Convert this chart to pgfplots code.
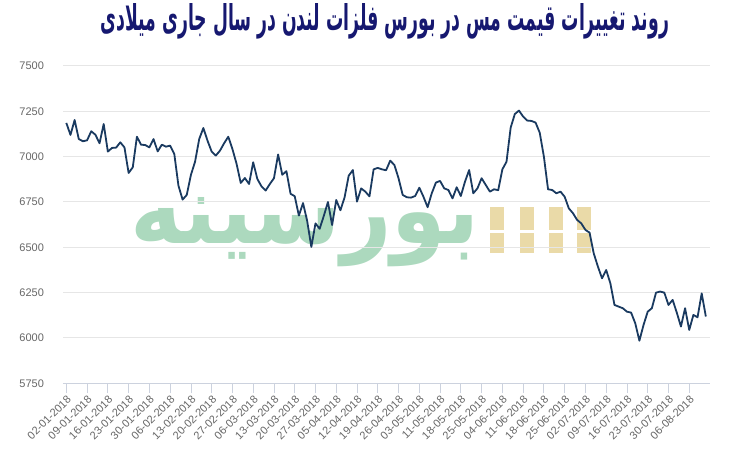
\documentclass[border=0pt]{standalone}
\usepackage{fontspec}
\setmainfont{Liberation Sans}
\newfontfamily\farsi[Script=Arabic]{DejaVu Sans}
\TeXXeTstate=1
\usepackage{graphicx}
\usepackage{pgfplots}
\usepackage{pgfplotstable}
\pgfplotsset{compat=1.18}

\definecolor{titleblue}{RGB}{22,24,112}
\definecolor{linecol}{RGB}{26,58,96}
\definecolor{gridcol}{RGB}{230,230,230}
\definecolor{axiscol}{RGB}{204,210,222}
\definecolor{labcol}{RGB}{102,102,102}
\definecolor{wmgreen}{RGB}{172,217,190}
\definecolor{wmgold}{RGB}{234,218,168}

% LME copper price, one row per trading day
\pgfplotstableread{
i v
0 7186
1 7120
2 7202
3 7097
4 7085
5 7090
6 7140
7 7121
8 7074
9 7180
10 7028
11 7048
12 7050
13 7079
14 7051
15 6910
16 6941
17 7110
18 7066
19 7064
20 7051
21 7097
22 7029
23 7066
24 7055
25 7061
26 7015
27 6840
28 6763
29 6789
30 6899
31 6972
32 7097
33 7158
34 7088
35 7028
36 7006
37 7033
38 7074
39 7110
40 7042
41 6960
42 6855
43 6882
44 6849
45 6969
46 6877
47 6836
48 6813
49 6849
50 6881
51 7012
52 6900
53 6920
54 6795
55 6782
56 6675
57 6744
58 6645
59 6502
60 6632
61 6602
62 6673
63 6750
64 6623
65 6761
66 6704
67 6775
68 6895
69 6926
70 6752
71 6825
72 6807
73 6781
74 6930
75 6938
76 6930
77 6925
78 6978
79 6954
80 6881
81 6789
82 6776
83 6774
84 6783
85 6829
86 6779
87 6721
88 6798
89 6857
90 6866
91 6825
92 6816
93 6770
94 6831
95 6783
96 6862
97 6926
98 6798
99 6825
100 6881
101 6844
102 6807
103 6820
104 6815
105 6930
106 6972
107 7160
108 7235
109 7254
110 7221
111 7199
112 7197
113 7188
114 7132
115 7000
116 6820
117 6816
118 6798
119 6807
120 6779
121 6715
122 6688
123 6651
124 6632
125 6596
126 6581
127 6467
128 6394
129 6329
130 6375
131 6302
132 6182
133 6173
134 6164
135 6145
136 6140
137 6081
138 5985
139 6072
140 6145
141 6164
142 6250
143 6256
144 6250
145 6182
146 6210
147 6140
148 6063
149 6164
150 6044
151 6127
152 6114
153 6246
154 6118
}\copper

\begin{document}
\begin{tikzpicture}
\path[use as bounding box] (0pt,0pt) rectangle (734pt,462pt);

% title
\node[text=titleblue, inner sep=0pt] at (385pt,441pt)
  {\resizebox{568pt}{27pt}{\farsi\bfseries\beginR روند تغییرات قیمت مس در بورس فلزات لندن در سال جاری میلادی\endR}};

% watermark
\node[text=wmgreen, inner sep=0pt] at (305pt,230pt)
  {\resizebox{350pt}{46pt}{\farsi\bfseries\beginR بورسینه\endR}};
\foreach \cx in {497,527,556,584}{
  \fill[wmgold] (\cx pt-7pt,232pt) rectangle (\cx pt+7pt,255pt);
  \fill[wmgold] (\cx pt-7pt,209pt) rectangle (\cx pt+7pt,229pt);
}

\begin{axis}[
  at={(63pt,78.7pt)}, anchor=south west,
  width=647pt, height=317.3pt, scale only axis,
  xmin=-0.8, xmax=155, ymin=5750, ymax=7500,
  axis x line*=bottom, axis y line*=left,
  y axis line style={draw=none},
  x axis line style={axiscol, line width=1pt},
  ytick={5750,6000,...,7500},
  ymajorgrids, grid style={gridcol, line width=1pt},
  ytick style={draw=none},
  xtick={0,5,...,150},
  xticklabels={02-01-2018,09-01-2018,16-01-2018,23-01-2018,30-01-2018,06-02-2018,13-02-2018,20-02-2018,27-02-2018,06-03-2018,13-03-2018,20-03-2018,27-03-2018,05-04-2018,12-04-2018,19-04-2018,26-04-2018,03-05-2018,11-05-2018,18-05-2018,25-05-2018,04-06-2018,11-06-2018,18-06-2018,25-06-2018,02-07-2018,09-07-2018,16-07-2018,23-07-2018,30-07-2018,06-08-2018},
  tick align=outside, major tick length=10pt,
  xtick style={axiscol, line width=0.8pt},
  ticklabel style={font=\fontsize{11}{13}\selectfont, text=labcol},
  xticklabel style={rotate=45, anchor=north east, inner sep=1pt},
  yticklabel style={xshift=-5.5pt, /pgf/number format/1000 sep={}},
  /pgf/number format/assume math mode=true,
]
\addplot[linecol, line width=1.8pt, line join=round, mark=none] table[x=i, y=v] {\copper};
\end{axis}
\end{tikzpicture}
\end{document}
